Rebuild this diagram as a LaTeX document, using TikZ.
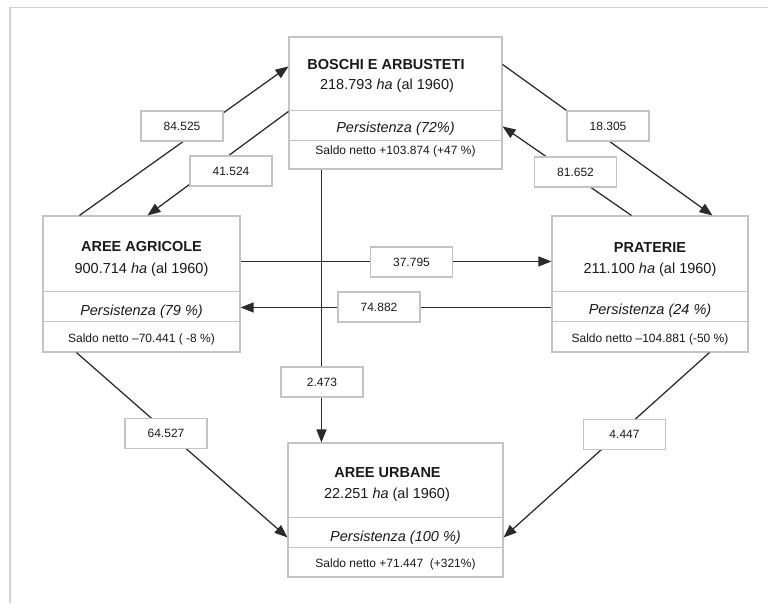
\documentclass[tikz,border=0pt]{standalone}
\usepackage{fontspec}
\setmainfont{Liberation Sans}
\usetikzlibrary{arrows.meta,calc}
\definecolor{boxgray}{HTML}{C4C4C4}
\definecolor{linec}{HTML}{2A2A2A}
\definecolor{txt}{HTML}{1A1A1A}
\definecolor{framec}{HTML}{D2D2D2}
\begin{document}
\begin{tikzpicture}[x=1pt,y=-1pt,
  box/.style={draw=boxgray, line width=1.1pt, fill=white, inner sep=0pt},
  divider/.style={draw=boxgray, line width=1.1pt},
  lbl/.style={draw=boxgray, line width=1.1pt, fill=white, minimum width=82pt, minimum height=30pt, inner sep=0pt, text=txt, font=\fontsize{12}{14}\selectfont},
  conn/.style={draw=linec, line width=1.25pt},
  arr/.style={conn, -{Triangle[length=13pt,width=10pt]}},
  ttl/.style={anchor=base, inner sep=0pt, text=txt, font=\bfseries\fontsize{14.5}{17}\selectfont},
  area/.style={anchor=base, inner sep=0pt, text=txt, font=\fontsize{14.5}{17}\selectfont},
  pers/.style={anchor=base, inner sep=0pt, text=txt, font=\itshape\fontsize{14.5}{17}\selectfont},
  saldo/.style={anchor=base, inner sep=0pt, text=txt, font=\fontsize{12}{14}\selectfont}]
\useasboundingbox (0,0) rectangle (768,603);
\draw[framec, line width=1.5pt] (768,7.5) -- (10,7.5) -- (10,603);

% boxes
\node[box, minimum width=213pt, minimum height=132pt] (B) at (395.5,103) {};
\node[box, minimum width=197pt, minimum height=136pt] (A) at (141.5,284) {};
\node[box, minimum width=196pt, minimum height=136pt] (P) at (650,284) {};
\node[box, minimum width=215pt, minimum height=134pt] (U) at (395.5,510) {};

\draw[divider] ($(B.north west)+(0,74)$) -- ($(B.north east)+(0,74)$);
\draw[divider] ($(B.north west)+(0,104)$) -- ($(B.north east)+(0,104)$);
\draw[divider] ($(A.north west)+(0,76)$) -- ($(A.north east)+(0,76)$);
\draw[divider] ($(A.north west)+(0,106)$) -- ($(A.north east)+(0,106)$);
\draw[divider] ($(P.north west)+(0,76)$) -- ($(P.north east)+(0,76)$);
\draw[divider] ($(P.north west)+(0,106)$) -- ($(P.north east)+(0,106)$);
\draw[divider] ($(U.north west)+(0,75)$) -- ($(U.north east)+(0,75)$);
\draw[divider] ($(U.north west)+(0,105)$) -- ($(U.north east)+(0,105)$);

% texts
\node[ttl] (Bt) at (386,69.5) {BOSCHI E ARBUSTETI};
\node[area] (Ba) at (387,89.5) {218.793 \textit{ha} (al 1960)};
\node[pers] (Bp) at (395.5,132) {Persistenza (72\%)};
\node[saldo] (Bs) at (395.5,154) {Saldo netto +103.874 (+47 \%)};

\node[ttl] (At) at (141.5,251) {AREE AGRICOLE};
\node[area] (Aa) at (141.5,273) {900.714 \textit{ha} (al 1960)};
\node[pers] (Ap) at (141.5,315) {Persistenza (79 \%)};
\node[saldo] (As) at (141.5,342) {Saldo netto \textendash70.441 ( -8 \%)};

\node[ttl] (Pt) at (650,252) {PRATERIE};
\node[area] (Pa) at (650,273) {211.100 \textit{ha} (al 1960)};
\node[pers] (Pp) at (650,314) {Persistenza (24 \%)};
\node[saldo] (Ps) at (650,342) {Saldo netto \textendash104.881 (-50 \%)};

\node[ttl] (Ut) at (387.5,477) {AREE URBANE};
\node[area] (Ua) at (387,498) {22.251 \textit{ha} (al 1960)};
\node[pers] (Up) at (395.5,541) {Persistenza (100 \%)};
\node[saldo] (Us) at (395.5,567) {Saldo netto +71.447 \ (+321\%)};

% connectors
\draw[arr] ($(A.north west)+(37,0)$) -- ($(B.north west)+(0,30)$);
\draw[arr] ($(B.north west)+(0,75)$) -- ($(A.north west)+(105,0)$);
\draw[arr] ($(B.north east)+(0,28)$) -- ($(P.north west)+(161,0)$);
\draw[arr] ($(P.north west)+(80,0)$) -- ($(B.north east)+(0,90)$);
\draw[arr] ($(A.north east)+(0,46)$) -- ($(P.north west)+(0,46)$);
\draw[arr] ($(P.north west)+(0,92)$) -- ($(A.north east)+(0,92)$);
\draw[arr] ($(B.south west)+(33,0)$) -- ($(U.north west)+(34,0)$);
\draw[arr] ($(A.south west)+(34,0)$) -- ($(U.north west)+(0,95)$);
\draw[arr] ($(P.south west)+(158,0)$) -- ($(U.north east)+(0,95)$);

% labels
\node[lbl] (l1) at (182,126) {84.525};
\node[lbl] (l2) at (231,171) {41.524};
\node[lbl] (l3) at (608,126) {18.305};
\node[lbl] (l4) at (575.5,172) {81.652};
\node[lbl] (l5) at (411.5,262) {37.795};
\node[lbl] (l6) at (379,307) {74.882};
\node[lbl] (l7) at (322,382) {2.473};
\node[lbl] (l8) at (166,433.5) {64.527};
\node[lbl] (l9) at (624.5,434.5) {4.447};
\end{tikzpicture}
\end{document}
